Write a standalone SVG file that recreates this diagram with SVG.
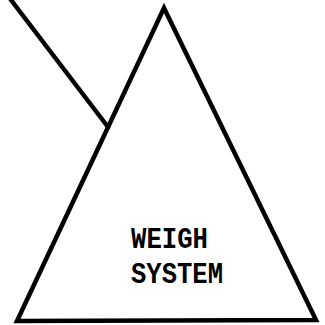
<svg xmlns="http://www.w3.org/2000/svg" width="325" height="325" viewBox="0 0 325 325">
<style>
.ln{fill:none;stroke:#000;stroke-width:4.5;stroke-linejoin:miter;stroke-linecap:round}
.t{font-family:"Liberation Mono","DejaVu Sans Mono",monospace;font-weight:bold;font-size:30px;fill:#000}
</style>
<rect width="325" height="325" fill="#fff"/>
<g id="connectors">
<path class="ln" d="M11,0 L108,127"/>
</g>
<g id="weigh-system">
<path class="ln" d="M164,8 L316,320 L17,321 Z"/>
<text class="t" x="131" y="248" textLength="77" lengthAdjust="spacingAndGlyphs">WEIGH</text>
<text class="t" x="131" y="283" textLength="92" lengthAdjust="spacingAndGlyphs">SYSTEM</text>
</g>
</svg>
